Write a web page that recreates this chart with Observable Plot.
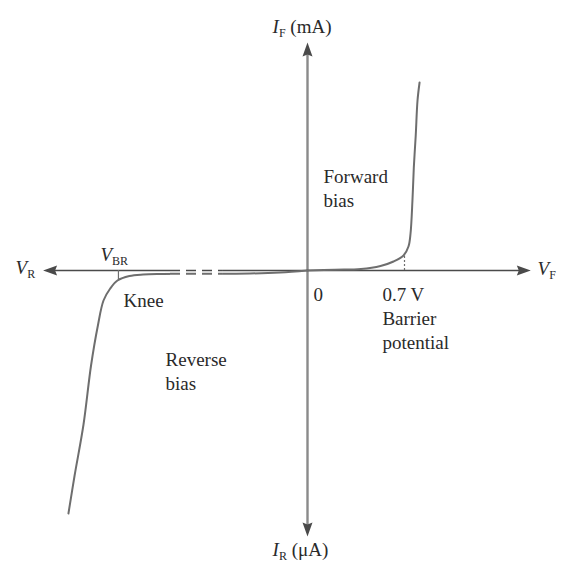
<!DOCTYPE html>
<html>
<head>
<meta charset="utf-8">
<script src="https://cdn.jsdelivr.net/npm/d3@7"></script>
<script src="https://cdn.jsdelivr.net/npm/@observablehq/plot@0.6"></script>
<style>
  html, body { margin: 0; padding: 0; background: #fff; overflow: hidden; }
</style>
</head>
<body>
<div id="chart"></div>
<script>
// Forward-bias branch: V (volts), I (mA, drawing units)
const forwardV = [0, 0.2, 0.39, 0.533, 0.628, 0.701, 0.737, 0.752, 0.766, 0.776, 0.79, 0.803, 0.818];
const forwardI = [0, 0.08, 0.15, 0.45, 0.9, 1.5, 2.4, 3.7, 7.0, 10.3, 13.5, 17, 18.8];
// Reverse-bias branch: V (drawing units), I (µA, drawing units)
const reverseV = [0, -0.2, -0.42, -0.8, -1.07, -1.2, -1.3, -1.387, -1.44, -1.489, -1.53, -1.58, -1.635, -1.70, -1.745];
const reverseI = [0, -0.2, -0.3, -0.33, -0.35, -0.4, -0.55, -1.0, -1.8, -3.0, -5.5, -9.5, -15.4, -20.5, -24.3];
// Axes extents and the broken (dashed) stretch of the horizontal axis
const hAxis = [-1.93, 1.63];
const vAxis = [-26.6, 22.8];
const axisBreak = [-1.0, -0.62];
// Reference ticks: barrier potential and breakdown (knee)
const barrierV = 0.708, barrierI = 1.6;
const kneeV = -1.38, kneeI = -0.9;

// Axis labels with subscripts
const subLabels = [
  {x: -0.255, y: 25.1, main: "I", sub: "F", tail: " (mA)"},
  {x: -0.255, y: -27.2, main: "I", sub: "R", tail: " (\u03bcA)"},
  {x: -2.131, y: 1.0, main: "V", sub: "R", tail: ""},
  {x: 1.679, y: 0.9, main: "V", sub: "F", tail: ""},
  {x: -1.511, y: 2.3, main: "V", sub: "BR", tail: ""}
];
// Plain annotations
const notes = [
  {x: -1.343, y: -2.0, text: "Knee"},
  {x: 0.044, y: -1.4, text: "0"},
  {x: 0.547, y: -1.4, text: "0.7 V\nBarrier\npotential"},
  {x: 0.117, y: 10.4, text: "Forward\nbias"},
  {x: -1.036, y: -7.9, text: "Reverse\nbias"}
];

const forward = forwardV.map((v, k) => ({v, i: forwardI[k]}));
const reverse = reverseV.map((v, k) => ({v, i: reverseI[k]}));

// arrowhead symbols (tip at the anchor point)
const L = 14, W = 5;
const headRight = {draw(c) { c.moveTo(0, 0); c.lineTo(-L, -W); c.lineTo(-L + 2, 0); c.lineTo(-L, W); c.closePath(); }};
const headLeft  = {draw(c) { c.moveTo(0, 0); c.lineTo(L, -W); c.lineTo(L - 2, 0); c.lineTo(L, W); c.closePath(); }};
const headUp    = {draw(c) { c.moveTo(0, 0); c.lineTo(-W, L); c.lineTo(0, L - 2); c.lineTo(W, L); c.closePath(); }};
const headDown  = {draw(c) { c.moveTo(0, 0); c.lineTo(-W, -L); c.lineTo(0, -L + 2); c.lineTo(W, -L); c.closePath(); }};

const axisColor = "#4a4a4a";
const vAxisColor = "#8a8a8a";
const curveColor = "#6e6e6e";
const textColor = "#2a2a2a";
const font = "'Liberation Serif', 'DejaVu Serif', serif";

const chart = Plot.plot({
  width: 562,
  height: 564,
  margin: 0,
  x: {domain: [-2.2409, 1.8613], range: [0, 562], axis: null},
  y: {domain: [-29.4, 27], range: [564, 0], axis: null},
  style: {fontFamily: font, background: "#fff", overflow: "visible"},
  marks: [
    // vertical axis
    Plot.ruleX([0], {y1: vAxis[0] + 0.6, y2: vAxis[1] - 0.6, stroke: vAxisColor, strokeWidth: 2.4}),
    // horizontal axis
    Plot.ruleY([0], {x1: hAxis[0] + 0.04, x2: hAxis[1] - 0.04, stroke: axisColor, strokeWidth: 1.6}),
    // curves
    Plot.line(forward, {x: "v", y: "i", curve: "catmull-rom", stroke: curveColor, strokeWidth: 2}),
    Plot.line(reverse, {x: "v", y: "i", curve: "catmull-rom", stroke: curveColor, strokeWidth: 2}),
    // break in axis + curve
    Plot.rect([0], {x1: axisBreak[0], x2: axisBreak[1], y1: -0.9, y2: 0.5, fill: "#fff"}),
    Plot.ruleY([0], {x1: axisBreak[0], x2: axisBreak[1], stroke: axisColor, strokeWidth: 1.6, strokeDasharray: "10,6"}),
    Plot.ruleY([reverseI[3]], {x1: axisBreak[0], x2: axisBreak[1], stroke: curveColor, strokeWidth: 2, strokeDasharray: "10,6"}),
    // reference ticks
    Plot.ruleX([barrierV], {y1: 0, y2: barrierI, stroke: curveColor, strokeWidth: 1.2, strokeDasharray: "2,2"}),
    Plot.ruleX([kneeV], {y1: 0, y2: kneeI, stroke: curveColor, strokeWidth: 1.2}),
    // arrowheads
    Plot.dot([0], {x: hAxis[1], y: 0, symbol: headRight, fill: axisColor, stroke: "none"}),
    Plot.dot([0], {x: hAxis[0], y: 0, symbol: headLeft, fill: axisColor, stroke: "none"}),
    Plot.dot([0], {x: 0, y: vAxis[1], symbol: headUp, fill: axisColor, stroke: "none"}),
    Plot.dot([0], {x: 0, y: vAxis[0], symbol: headDown, fill: axisColor, stroke: "none"}),
    // labels
    Plot.text(notes, {x: "x", y: "y", text: "text", textAnchor: "start", lineAnchor: "top",
      lineHeight: 1.25, fontSize: 19, fill: textColor}),
    Plot.text(subLabels, {x: "x", y: "y", text: d => d.main + d.sub + d.tail, textAnchor: "start",
      lineAnchor: "top", fontSize: 19, fill: textColor, ariaDescription: "sub-labels"})
  ]
});

document.getElementById("chart").appendChild(chart);

// rebuild subscript labels with tspans (last text layer)
const textLayers = chart.querySelectorAll('g[aria-label="text"]');
const subLayer = textLayers[textLayers.length - 1];
d3.select(subLayer).selectAll("text").each(function(_, j) {
  const d = subLabels[j];
  const t = d3.select(this);
  t.text(null);
  t.append("tspan").attr("font-style", "italic").text(d.main);
  t.append("tspan").attr("font-size", 12).attr("dy", 4).text(d.sub);
  if (d.tail) t.append("tspan").attr("dy", -4).text(d.tail);
});
</script>
</body>
</html>
